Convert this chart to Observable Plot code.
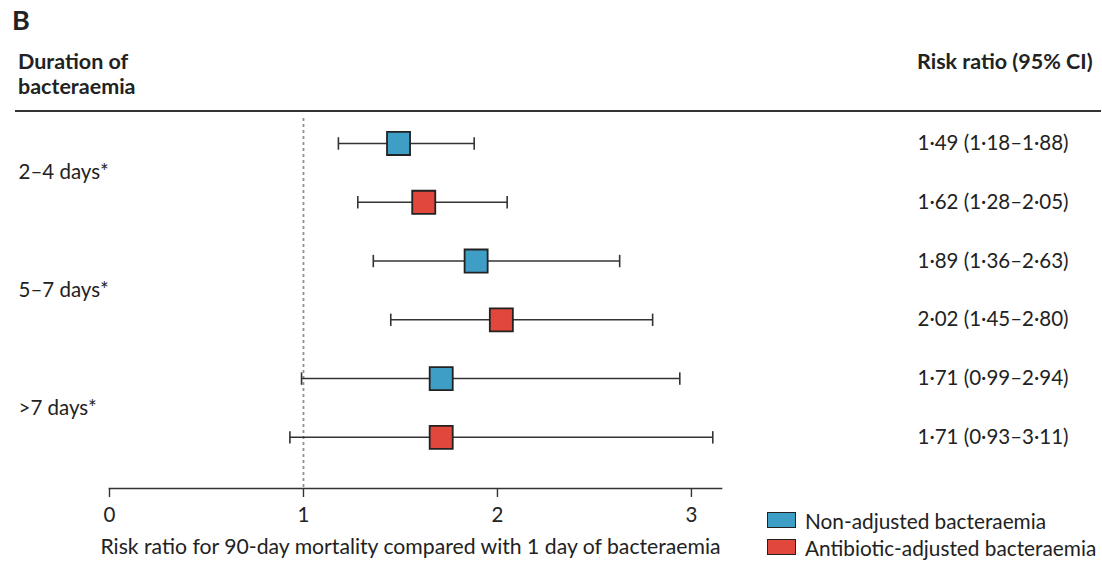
<!DOCTYPE html>
<html>
<head>
<meta charset="utf-8">
<script src="https://cdn.jsdelivr.net/npm/d3@7"></script>
<script src="https://cdn.jsdelivr.net/npm/@observablehq/plot@0.6"></script>
<style>
  html, body { margin: 0; padding: 0; background: #fff; }
  body { font-family: Lato, "Open Sans", sans-serif; color: #222; }
  #wrap { position: relative; width: 1102px; height: 563px; overflow: hidden; }
  #wrap svg { position: absolute; left: 0; top: 0; }
  .abs { position: absolute; white-space: nowrap; }
  .panel { left: 12px; top: 3px; font-size: 27px; font-weight: 700; }
  .hdr { font-size: 21.5px; font-weight: 700; line-height: 25px; }
  .rule { left: 15px; top: 110px; width: 1086px; height: 2px; background: #333; }
  .leg { font-size: 20.8px; display: flex; align-items: center; height: 24px; }
  .sw { width: 29px; height: 16px; border: 1.6px solid #222; margin-right: 9px; box-sizing: border-box; }
</style>
</head>
<body>
<div id="wrap"></div>
<script>
// ---- data ----
const groups = ["2–4 days*", "5–7 days*", ">7 days*"];
const seriesNames = ["Non-adjusted bacteraemia", "Antibiotic-adjusted bacteraemia"];
const seriesColors = ["#3f9ec6", "#e1473a"];
const rowGroup = [0, 0, 1, 1, 2, 2];
const rowSeries = [0, 1, 0, 1, 0, 1];
const estimates = [1.49, 1.62, 1.89, 2.02, 1.71, 1.71];
const lower = [1.18, 1.28, 1.36, 1.45, 0.99, 0.93];
const upper = [1.88, 2.05, 2.63, 2.80, 2.94, 3.11];
const ciLabels = ["1·49 (1·18–1·88)", "1·62 (1·28–2·05)", "1·89 (1·36–2·63)",
                  "2·02 (1·45–2·80)", "1·71 (0·99–2·94)", "1·71 (0·93–3·11)"];
const xTicks = [0, 1, 2, 3];
const refValue = 1;
const xTitle = "Risk ratio for 90-day mortality compared with 1 day of bacteraemia";

// ---- table built from arrays ----
const rows = estimates.map((e, i) => ({
  row: i, est: e, lo: lower[i], hi: upper[i],
  series: seriesNames[rowSeries[i]], label: ciLabels[i]
}));
const groupRows = groups.map((g, i) => ({
  name: g,
  pos: d3.mean(rows.filter((r, j) => rowGroup[j] === i), r => r.row)
}));

const capSymbol = { draw(ctx, size) { const h = Math.sqrt(size); ctx.moveTo(0, -h); ctx.lineTo(0, h); } };

const chart = Plot.plot({
  width: 1102,
  height: 563,
  marginLeft: 109,
  marginRight: 381,
  marginTop: 118,
  marginBottom: 75,
  style: { fontFamily: "Lato, 'Open Sans', sans-serif", fontSize: "20.5px", color: "#222", background: "transparent" },
  x: { domain: [0, 3.155] },
  y: { domain: [-0.425, 5.87], reverse: true, axis: null },
  color: { domain: seriesNames, range: seriesColors },
  marks: [
    Plot.frame({ anchor: "bottom", stroke: "#333", strokeWidth: 1.6 }),
    Plot.axisX({ ticks: xTicks, tickSize: 9, tickPadding: 10, stroke: "#333", strokeWidth: 1.4, fontSize: 20.5, label: null, tickFormat: d => String(d) }),
    Plot.text([xTitle], { frameAnchor: "bottom", dy: 65, dx: -5, text: d => d, fontSize: 21.2, fill: "#222" }),
    Plot.ruleX([refValue], { stroke: "#8393a2", strokeWidth: 1.8, strokeDasharray: "3,3" }),
    Plot.link(rows, { x1: "lo", x2: "hi", y1: "row", y2: "row", stroke: "#333", strokeWidth: 1.5 }),
    Plot.dot(rows, { x: "lo", y: "row", symbol: capSymbol, r: 3.5, stroke: "#333", strokeWidth: 1.6, fill: "none" }),
    Plot.dot(rows, { x: "hi", y: "row", symbol: capSymbol, r: 3.5, stroke: "#333", strokeWidth: 1.6, fill: "none" }),
    Plot.dot(rows, { x: "est", y: "row", symbol: "square", r: 13, fill: "series", stroke: "#222", strokeWidth: 1.8 }),
    Plot.text(rows, { y: "row", text: "label", frameAnchor: "right", dx: 196, textAnchor: "start", fontSize: 20.5, fill: "#222" }),
    Plot.text(groupRows, { y: "pos", text: "name", frameAnchor: "left", dx: -91, textAnchor: "start", fontSize: 20.5, fill: "#222" })
  ]
});

const wrap = document.getElementById("wrap");
wrap.appendChild(chart);

function addDiv(cls, html, style) {
  const d = document.createElement("div");
  d.className = "abs " + cls;
  d.innerHTML = html;
  Object.assign(d.style, style || {});
  wrap.appendChild(d);
  return d;
}
addDiv("panel", "B");
addDiv("hdr", "Duration of<br>bacteraemia", { left: "18px", top: "49px" });
addDiv("hdr", "Risk ratio (95% CI)", { left: "917px", top: "49px" });
addDiv("rule", "");
seriesNames.forEach((name, i) => {
  addDiv("leg", `<span class="sw" style="background:${seriesColors[i]}"></span>${name}`,
    { left: "767px", top: (508 + i * 27) + "px" });
});
</script>
</body>
</html>
